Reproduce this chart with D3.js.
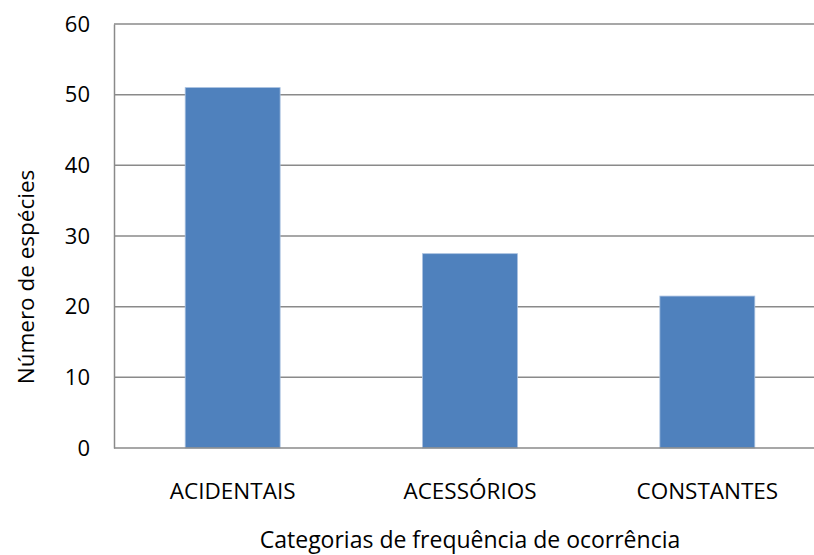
<!DOCTYPE html>
<html>
<head>
<meta charset="utf-8">
<script src="https://cdn.jsdelivr.net/npm/d3@7/dist/d3.min.js"></script>
<style>
  html, body { margin: 0; padding: 0; background: #fff; }
  svg { display: block; }
  svg text { font-family: "Open Sans", "DejaVu Sans", sans-serif; }
</style>
</head>
<body>
<svg id="chart" width="814" height="555"></svg>
<script>
// Número de espécies por categoria de frequência de ocorrência
const categories = ["ACIDENTAIS", "ACESSÓRIOS", "CONSTANTES"];
const speciesCount = [51, 27.5, 21.5];
const yTicks = [0, 10, 20, 30, 40, 50, 60];
const yTitle = "Número de espécies";
const xTitle = "Categorias de frequência de ocorrência";

const FONT = "'Open Sans', 'DejaVu Sans', sans-serif";
const svg = d3.select("#chart");
const plot = { left: 114, right: 826, top: 24, bottom: 448 };

const x = d3.scaleBand()
  .domain(categories)
  .range([plot.left, plot.right])
  .paddingInner(0.6)
  .paddingOuter(0.3);

const y = d3.scaleLinear()
  .domain([0, 60])
  .range([plot.bottom, plot.top]);

// horizontal gridlines
svg.append("g")
  .selectAll("line")
  .data(yTicks.filter(d => d > 0))
  .join("line")
  .attr("x1", plot.left)
  .attr("x2", plot.right)
  .attr("y1", d => y(d))
  .attr("y2", d => y(d))
  .attr("stroke", "#8a8a8a")
  .attr("stroke-width", 1.5);

// bars
svg.append("g")
  .selectAll("rect")
  .data(categories.map((c, i) => ({ c, v: speciesCount[i] })))
  .join("rect")
  .attr("x", d => x(d.c))
  .attr("width", x.bandwidth())
  .attr("y", d => y(d.v))
  .attr("height", d => y(0) - y(d.v))
  .attr("fill", "#4f81bd")
  .attr("stroke", "#a9c1e0")
  .attr("stroke-width", 0.8);

// y axis
const yAxis = d3.axisLeft(y).tickValues(yTicks).tickSize(0).tickPadding(24);
const yg = svg.append("g").attr("transform", `translate(${plot.left},0)`).call(yAxis)
  .attr("font-family", FONT);
yg.select(".domain").attr("stroke", "#8a8a8a").attr("stroke-width", 1.5);
yg.selectAll("text").attr("font-size", 22).attr("fill", "#000");

// x axis
const xAxis = d3.axisBottom(x).tickSize(0).tickPadding(35);
const xg = svg.append("g").attr("transform", `translate(0,${plot.bottom})`).call(xAxis)
  .attr("font-family", FONT);
xg.select(".domain").attr("stroke", "#8a8a8a").attr("stroke-width", 1.5)
  .attr("d", `M${plot.left},0H${plot.right}`);
xg.selectAll("text").attr("font-size", 22.5).attr("fill", "#000");

// axis titles
svg.append("text")
  .attr("transform", `translate(34,277) rotate(-90)`)
  .attr("text-anchor", "middle")
  .attr("font-size", 22.5)
  .text(yTitle);

svg.append("text")
  .attr("x", 470)
  .attr("y", 548)
  .attr("text-anchor", "middle")
  .attr("font-size", 23)
  .text(xTitle);
</script>
</body>
</html>
